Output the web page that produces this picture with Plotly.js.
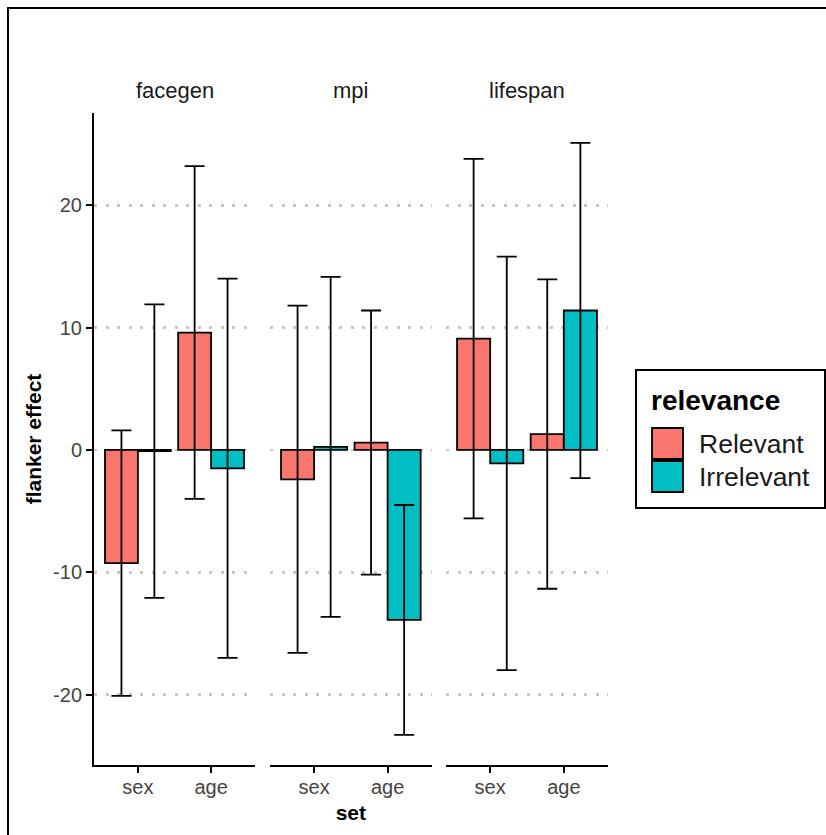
<!DOCTYPE html>
<html>
<head>
<meta charset="utf-8">
<script src="https://cdn.plot.ly/plotly-3.0.1.min.js"></script>
<style>html,body{margin:0;padding:0;background:#fff;}</style>
</head>
<body>
<div id="chart" style="width:826px;height:835px;"></div>
<script>
// ---- data ----
const sets = ["facegen", "mpi", "lifespan"];
const categories = ["sex", "age"];
const relevantMean = { facegen: [-9.25, 9.6], mpi: [-2.4, 0.6], lifespan: [9.1, 1.3] };
const relevantErr  = { facegen: [10.85, 13.6], mpi: [14.2, 10.8], lifespan: [14.7, 12.65] };
const irrelevantMean = { facegen: [-0.1, -1.5], mpi: [0.25, -13.9], lifespan: [-1.1, 11.4] };
const irrelevantErr  = { facegen: [12.0, 15.5], mpi: [13.9, 9.4], lifespan: [16.9, 13.7] };
const seriesNames = ["Relevant", "Irrelevant"];
const seriesColors = ["#F8766D", "#00BFC4"];
const legendTitle = "relevance";
const yTickVals = [-20, -10, 0, 10, 20];
const yTickText = ["-20", "-10", "0", "10", "20"];

// ---- layout geometry ----
const W = 826, H = 835;
const mL = 94, mR = 218, mT = 113, mB = 70;
const pw = W - mL - mR, ph = H - mT - mB;
const px = v => (v - mL) / pw;          // pixel x -> paper
const py = v => (H - mB - v) / ph;      // pixel y -> paper
const domains = [[0, 161 / pw], [176 / pw, 337.7 / pw], [352 / pw, 1]];
const FF = "Liberation Sans, Arial, sans-serif";

const traces = [];
sets.forEach((s, i) => {
  const xa = i === 0 ? "x" : "x" + (i + 1);
  const ya = i === 0 ? "y" : "y" + (i + 1);
  [[relevantMean, relevantErr], [irrelevantMean, irrelevantErr]].forEach((pair, k) => {
    traces.push({
      type: "bar",
      name: seriesNames[k],
      showlegend: false,
      x: categories,
      y: pair[0][s],
      xaxis: xa, yaxis: ya,
      marker: { color: seriesColors[k], line: { color: "#000", width: 1.8 } },
      error_y: { type: "data", array: pair[1][s], visible: true, color: "#000", thickness: 1.8, width: 10 }
    });
  });
});

const yRange = [-25.76, 27.55];
const tickFont = { family: FF, size: 20, color: "#444" };
function xAxis(i) {
  return {
    domain: domains[i], anchor: i === 0 ? "y" : "y" + (i + 1),
    type: "category", range: [-0.6, 1.6],
    showline: true, linecolor: "#000", linewidth: 2,
    ticks: "outside", ticklen: 6, tickwidth: 2, tickcolor: "#000",
    ticklabelstandoff: -3,
    tickfont: tickFont, showgrid: false, zeroline: false, fixedrange: true
  };
}
function yAxis(i) {
  const a = {
    anchor: i === 0 ? "x" : "x" + (i + 1),
    range: yRange, tickvals: yTickVals, ticktext: yTickText,
    showgrid: true, gridcolor: "#c8c8c8", griddash: "3px,8.5px", gridwidth: 2.5,
    zeroline: false, fixedrange: true
  };
  if (i === 0) {
    Object.assign(a, {
      showline: true, linecolor: "#000", linewidth: 2,
      ticks: "outside", ticklen: 6, tickwidth: 2, tickcolor: "#000",
      tickfont: tickFont,
      title: { text: "flanker effect", font: { family: FF, size: 21, color: "#000", weight: "bold" }, standoff: 6 }
    });
  } else {
    Object.assign(a, { matches: "y", showline: false, ticks: "", showticklabels: false });
  }
  return a;
}

// custom legend (large key boxes like the original)
const legShapes = [
  { type: "rect", xref: "paper", yref: "paper", x0: px(636), x1: px(825), y0: py(508), y1: py(370),
    line: { color: "#000", width: 2 }, fillcolor: "#fff", layer: "above" }
];
const legAnn = [
  { text: "<b>" + legendTitle + "</b>", xref: "paper", yref: "paper", x: px(649), y: py(400),
    xanchor: "left", yanchor: "middle", showarrow: false, font: { family: FF, size: 28, color: "#000" } }
];
seriesNames.forEach((n, k) => {
  const top = 428 + k * 33;
  legShapes.push({ type: "rect", xref: "paper", yref: "paper", x0: px(652), x1: px(683),
    y0: py(top + 31), y1: py(top), line: { color: "#000", width: 1.8 }, fillcolor: seriesColors[k], layer: "above" });
  legAnn.push({ text: n, xref: "paper", yref: "paper", x: px(697), y: py(top + 16),
    xanchor: "left", yanchor: "middle", showarrow: false, font: { family: FF, size: 26.5, color: "#1a1a1a" } });
});

const layout = {
  width: W, height: H,
  margin: { l: mL, r: mR, t: mT, b: mB, autoexpand: false },
  paper_bgcolor: "#fff", plot_bgcolor: "#fff",
  barmode: "group", bargap: 0.1, bargroupgap: 0,
  font: { family: FF, color: "#000" },
  xaxis: xAxis(0), xaxis2: Object.assign(xAxis(1), {
    title: { text: "set", font: { family: FF, size: 21, color: "#000", weight: "bold" }, standoff: 8 }
  }), xaxis3: xAxis(2),
  yaxis: yAxis(0), yaxis2: yAxis(1), yaxis3: yAxis(2),
  showlegend: false,
  annotations: sets.map((s, i) => ({
    text: s, xref: "paper", yref: "paper",
    x: (domains[i][0] + domains[i][1]) / 2, y: py(91),
    xanchor: "center", yanchor: "middle", showarrow: false,
    font: { family: FF, size: 22, color: "#1a1a1a" }
  })).concat(legAnn),
  shapes: [{
    type: "rect", xref: "paper", yref: "paper",
    x0: px(8), x1: px(840), y0: py(845), y1: py(8),
    line: { color: "#000", width: 2 }, fillcolor: "rgba(0,0,0,0)", layer: "below"
  }].concat(legShapes)
};

Plotly.newPlot("chart", traces, layout, { staticPlot: true, displayModeBar: false });
</script>
</body>
</html>
